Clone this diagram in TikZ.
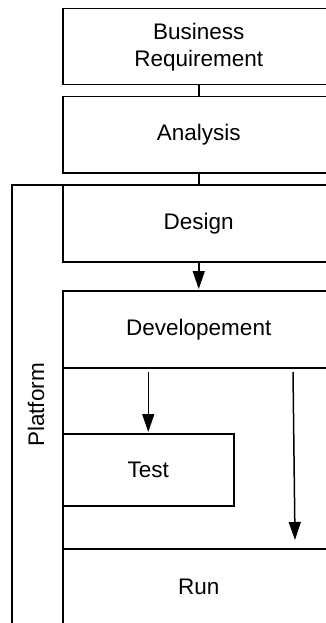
\documentclass[tikz,border=0pt]{standalone}
\usepackage{fontspec}
\setmainfont{Liberation Sans}
\usetikzlibrary{arrows.meta}
\begin{document}
\begin{tikzpicture}[x=1pt,y=-1pt,
  stage/.style={draw, line width=1.5pt, rectangle, minimum width=272pt, minimum height=76pt, anchor=north west, inner sep=0pt, align=center, font=\fontsize{22.5}{27}\selectfont},
  testbox/.style={draw, line width=1.5pt, rectangle, minimum width=171pt, minimum height=72pt, anchor=north west, inner sep=0pt, font=\fontsize{22.5}{27}\selectfont},
  link/.style={line width=1.5pt},
  flow/.style={line width=1.5pt, -{Triangle[length=18pt,width=12pt]}}
]
\clip (0,0) rectangle (326,623);
\fill[white] (0,0) rectangle (326,623);
% platform frame
\node[draw, line width=1.5pt, rectangle, anchor=north west, minimum width=330pt, minimum height=460pt, inner sep=0pt] (platform) at (11,184) {};
\node[rotate=90, font=\fontsize{22.5}{27}\selectfont, inner sep=0pt] (platlabel) at (36,405) {Platform};
% stages
\node[stage] (br) at (62,8) {Business\\Requirement};
\node[stage] (an) at (62,96) {Analysis};
\node[stage, minimum height=77pt] (de) at (62,184) {Design};
\node[stage, minimum height=77pt] (dv) at (62,290) {Developement};
\node[stage, minimum height=181pt] (mid) at (62,367) {};
\node[stage] (run) at (62,548) {Run};
\node[testbox] (test) at (62,433) {Test};
% connectors
\draw[link] (br.south) -- (an.north);
\draw[link] (an.south) -- (de.north);
\draw[flow] (de.south) -- ([yshift=1pt]dv.north);
\coordinate (s1) at ([yshift=61pt]test.north);
\draw[flow] (s1) -- ([yshift=1pt]test.north);
\coordinate (s2) at (293,372);
\coordinate (e2) at (295,540);
\draw[flow] (s2) -- (e2);
\end{tikzpicture}
\end{document}
